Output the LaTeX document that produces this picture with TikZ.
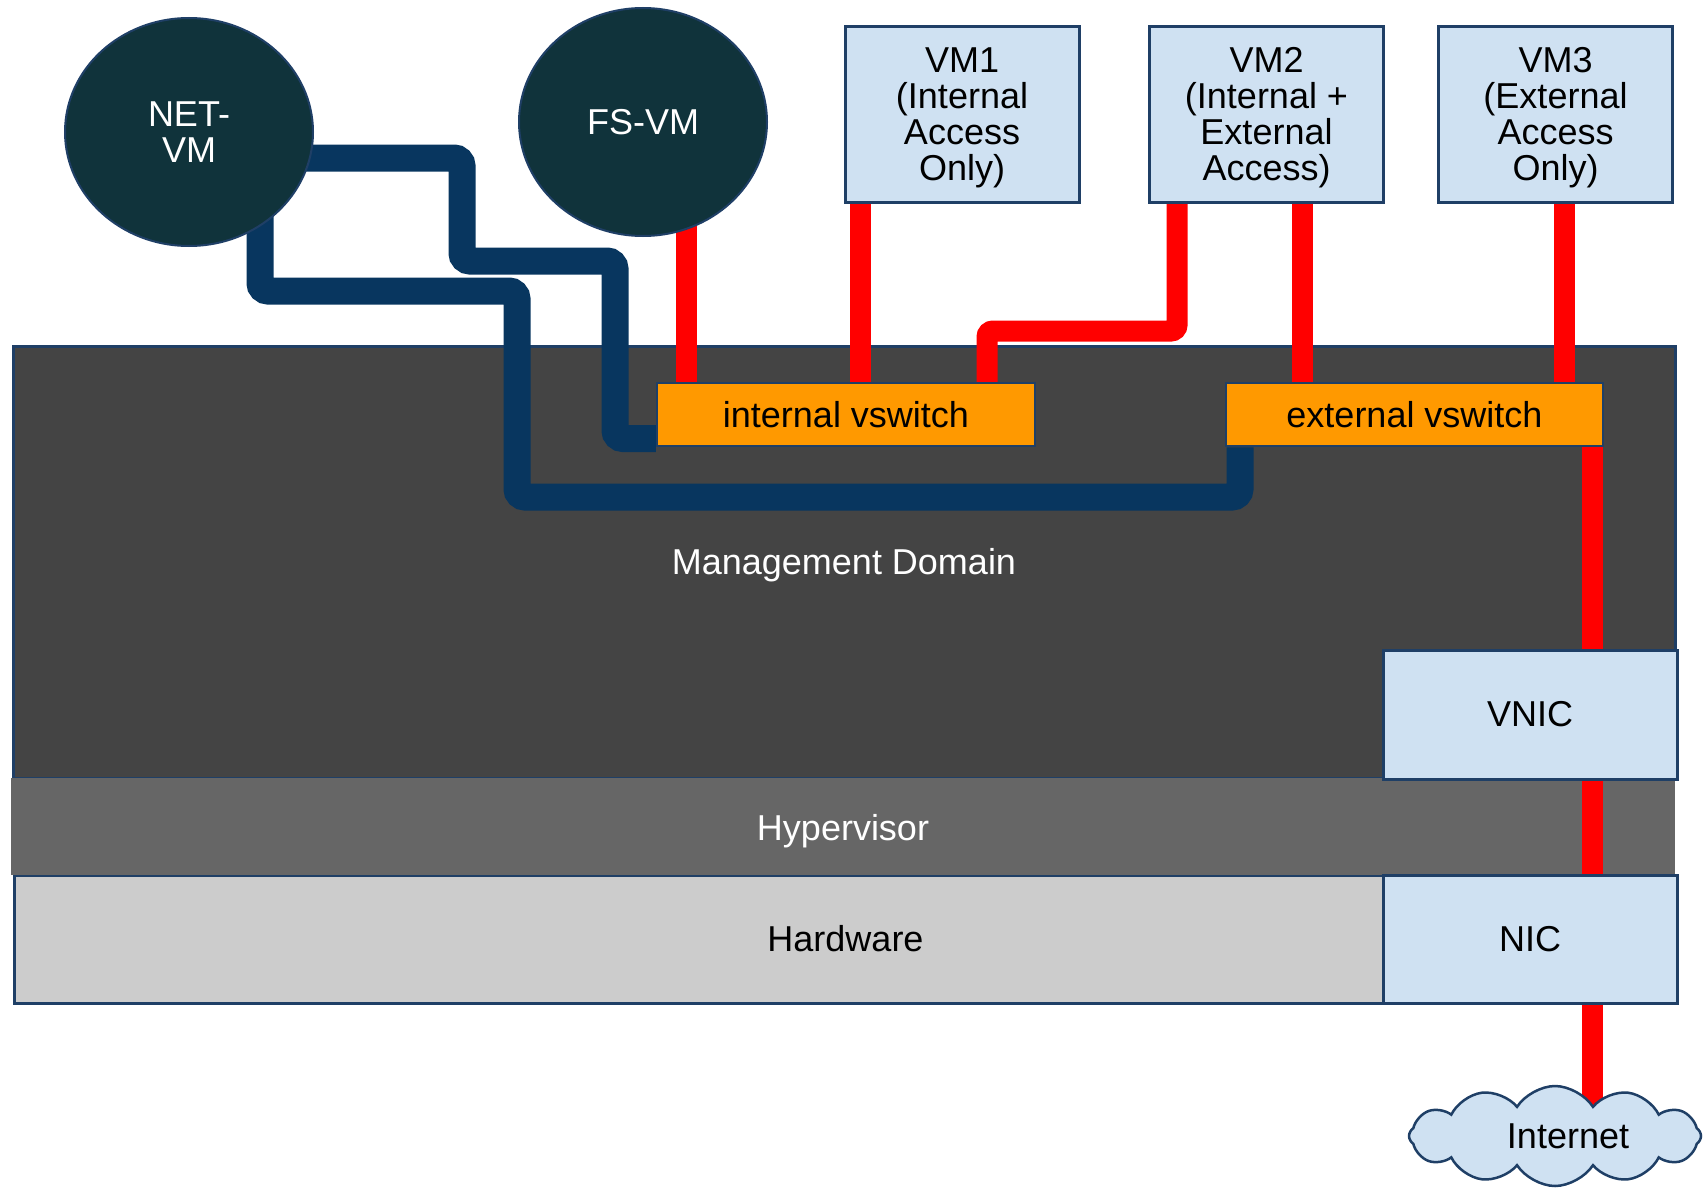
\documentclass[tikz,border=0pt]{standalone}
\usepackage{fontspec}
\setmainfont{Liberation Sans}
\usetikzlibrary{shapes.geometric,shapes.symbols}
\pgfdeclarelayer{back}
\pgfdeclarelayer{mid}
\pgfsetlayers{back,mid,main}
\definecolor{navy}{HTML}{1F3F66}
\definecolor{vmdark}{HTML}{10333B}
\definecolor{boxblue}{HTML}{CFE1F2}
\definecolor{linkblue}{HTML}{08365F}
\definecolor{linkred}{HTML}{FF0000}
\definecolor{swOrange}{HTML}{FF9900}
\definecolor{mgmtgray}{HTML}{444444}
\definecolor{hypgray}{HTML}{666666}
\definecolor{hwgray}{HTML}{CCCCCC}
\begin{document}
\begin{tikzpicture}[x=1pt,y=-1pt,
  every node/.style={font=\fontsize{36}{36}\selectfont},
  vmnode/.style={ellipse, fill=vmdark, draw=navy, line width=2pt,
    minimum width=248, minimum height=228, inner sep=0, text=white, align=center},
  guestbox/.style={rectangle, fill=boxblue, draw=navy, line width=3pt,
    minimum width=234, minimum height=175, inner sep=0, align=center,
    text depth=1pt},
  nicbox/.style={rectangle, fill=boxblue, draw=navy, line width=3pt,
    minimum width=294, minimum height=128, inner sep=0},
  switchbox/.style={rectangle, fill=swOrange, draw=navy, line width=2.5pt,
    minimum width=377, minimum height=63, inner sep=0},
  layerbox/.style={rectangle, inner sep=0},
  redlink/.style={draw=linkred, line width=21pt, rounded corners=6pt},
  bluelink/.style={draw=linkblue, line width=27pt, rounded corners=8pt}]
\useasboundingbox (0,0) rectangle (1704,1188);

% software / hardware layers
\begin{pgfonlayer}{back}
  \node[layerbox, fill=mgmtgray, draw=navy, line width=3pt, text=white,
        text height=32pt, minimum width=1662, minimum height=432]
        (mgmt) at (844,562) {Management Domain};
  \node[layerbox, fill=hwgray, draw=navy, line width=3pt,
        minimum width=1663, minimum height=128] (hw) at (845.5,939) {Hardware};
  \node[layerbox, fill=hypgray, text=white, text height=36pt,
        minimum width=1664, minimum height=97] (hyp) at (843,826.5) {Hypervisor};
\end{pgfonlayer}

% domains and guests
\node[vmnode] (netvm) at (189,132) {NET-\\VM};
\node[vmnode] (fsvm) at (643,122) {FS-VM};
\node[guestbox] (vm1) at (962,114.5) {VM1\\(Internal\\Access\\Only)};
\node[guestbox] (vm2) at (1266.5,114.5) {VM2\\(Internal +\\External\\Access)};
\node[guestbox] (vm3) at (1555.5,114.5) {VM3\\(External\\Access\\Only)};

% virtual switches and interfaces
\node[switchbox, minimum width=378] (intsw) at (846,414.5) {internal vswitch};
\node[switchbox] (extsw) at (1414.5,414.5) {external vswitch};
\node[nicbox, minimum height=129] (vnic) at (1530,714.5) {VNIC};
\node[nicbox] (nic) at (1530,939) {NIC};
\node[cloud, cloud puffs=12, cloud puff arc=115, cloud ignores aspect,
      minimum width=292, minimum height=100, fill=boxblue, draw=navy,
      line width=2.5pt, inner sep=0] (internet) at (1555,1136)
      {\hspace*{26pt}Internet};

% bends of the links
\coordinate (a1) at (462,158);
\coordinate (a2) at (615,261);
\coordinate (b1) at (260,291);
\coordinate (b2) at (517,497);
\coordinate (r1) at (987,331);

\begin{pgfonlayer}{mid}
  % management links of NET-VM
  \draw[bluelink] (netvm.center |- a1) -- (a1) |- (a2) |- ([yshift=-24pt]intsw.west);
  \draw[bluelink] (b1 |- netvm.center) -- (b1) -| (b2) -| ([xshift=-174.5pt]extsw.south);
  % guest links
  \draw[redlink] ([xshift=43pt]fsvm.center) -- ([xshift=43pt]fsvm.center |- intsw.north);
  \draw[redlink] ([xshift=-102pt]vm1.south) -- ([xshift=-102pt]vm1.south |- intsw.north);
  \draw[redlink] ([xshift=-89.5pt]vm2.south) |- (r1) -- (r1 |- intsw.north);
  \draw[redlink] ([xshift=35.5pt]vm2.south) -- ([xshift=35.5pt]vm2.south |- extsw.north);
  \draw[redlink] ([xshift=8.5pt]vm3.south) -- ([xshift=8.5pt]vm3.south |- extsw.north);
  % uplink to the internet
  \draw[redlink] ([xshift=177.5pt]extsw.south) -- ([xshift=177.5pt]extsw.south |- vnic.north);
  \draw[redlink] ([xshift=62pt]vnic.south) -- ([xshift=62pt]vnic.south |- nic.north);
  \draw[redlink] ([xshift=62pt]nic.south) -- ([xshift=62pt]nic.south |- internet.center);
\end{pgfonlayer}
\end{tikzpicture}
\end{document}
